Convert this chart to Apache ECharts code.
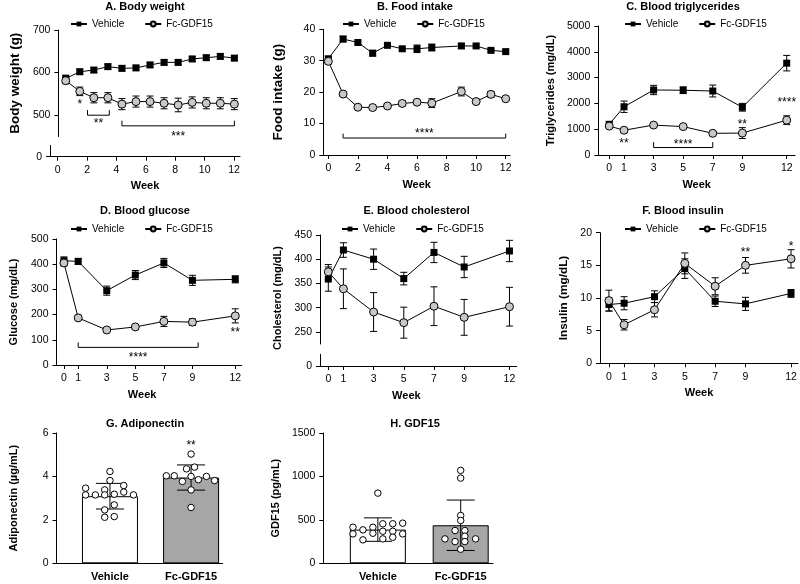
<!DOCTYPE html>
<html>
<head>
<meta charset="utf-8">
<title>Fc-GDF15</title>
<script src="https://cdn.jsdelivr.net/npm/echarts@6.0.0/dist/echarts.min.js"></script>
<style>
  html, body { margin: 0; padding: 0; background: #fff; }
  #page { position: relative; width: 800px; height: 584px; }
  .panel { position: absolute; }
</style>
</head>
<body>
<div id="page">
  <div class="panel" id="bw" style="left:0;top:0;width:262px;height:195px"></div>
  <div class="panel" id="food" style="left:262px;top:0;width:258px;height:195px"></div>
  <div class="panel" id="tg" style="left:520px;top:0;width:280px;height:195px"></div>
  <div class="panel" id="glu" style="left:0;top:195px;width:262px;height:210px"></div>
  <div class="panel" id="chol" style="left:262px;top:195px;width:258px;height:210px"></div>
  <div class="panel" id="ins" style="left:520px;top:195px;width:280px;height:210px"></div>
  <div class="panel" id="adipo" style="left:0;top:405px;width:262px;height:179px"></div>
  <div class="panel" id="gdf" style="left:262px;top:405px;width:258px;height:179px"></div>
</div>
<script>
// A. 体重
const bwWeeks = [0, 1, 2, 3, 4, 5, 6, 7, 8, 9, 10, 11, 12]
const bwVehicle = [586, 602, 606, 614, 610, 611, 618, 624, 624, 632, 635, 638, 634]
const bwVehicleErr = [8, 6, 6, 6, 6, 6, 6, 6, 6, 6, 6, 6, 6]
const bwFc = [581, 556, 541, 541, 526, 532, 532, 528, 524, 530, 528, 528, 526]
const bwFcErr = [7, 10, 12, 12, 13, 13, 13, 13, 16, 13, 13, 13, 13]
const bwTicks = [500, 600, 700]
const bwBrackets = [[1.55, 3.1, 500, 512], [4, 12, 475, 487]]
const bwStars = [[1, 531, '*'], [2.33, 487, '**'], [8, 455, '***']]

// B. 摄食量 (第8周无数据)
const fiWeeks = [0, 1, 2, 3, 4, 5, 6, 7, 9, 10, 11, 12]
const fiVehicle = [30.6, 36.9, 35.8, 32.4, 34.9, 33.8, 33.8, 34.2, 34.7, 34.7, 33.3, 32.9]
const fiVehicleErr = [0.8, 0.9, 0.5, 0.9, 0.5, 0.6, 1.2, 1.1, 0.8, 0.6, 0.5, 0.5]
const fiFc = [29.8, 19.4, 15.2, 15.1, 15.6, 16.4, 16.8, 16.5, 20.2, 17.0, 19.3, 17.9]
const fiFcErr = [0.8, 0.6, 0.4, 0.4, 0.8, 0.8, 0.6, 1.4, 1.4, 0.5, 0.9, 0.5]
const fiTicks = [0, 10, 20, 30, 40]
const fiBrackets = [[1, 12, 5.4, 6.8]]
const fiStars = [[6.5, 7.6, '****']]

const evenWeeks = [0, 2, 4, 6, 8, 10, 12]
const sampleWeeks = [0, 1, 3, 5, 7, 9, 12]

// C. 甘油三酯
const tgVehicle = [1190, 1870, 2520, 2510, 2480, 1850, 3560]
const tgVehicleErr = [90, 220, 180, 130, 230, 150, 300]
const tgFc = [1120, 960, 1160, 1100, 840, 850, 1350]
const tgFcErr = [60, 50, 50, 50, 60, 210, 170]
const tgTicks = [0, 1000, 2000, 3000, 4000, 5000]
const tgBrackets = [[3, 7, 290, 500]]
const tgStars = [[1, 520, '**'], [5, 478, '****'], [9, 1290, '**'], [12, 2130, '****']]

// D. 血糖
const gluVehicle = [414, 411, 295, 357, 405, 336, 340]
const gluVehicleErr = [15, 12, 18, 18, 18, 20, 14]
const gluFc = [405, 187, 139, 151, 173, 170, 195]
const gluFcErr = [12, 6, 6, 6, 20, 13, 28]
const gluTicks = [0, 100, 200, 300, 400, 500]
const gluBrackets = [[1, 9.4, 70, 90]]
const gluStars = [[5.2, 39, '****'], [12, 139, '**']]

// E. 胆固醇
const cholVehicle = [359, 419, 400, 360, 414, 384, 417]
const cholVehicleErr = [25, 15, 21, 13, 21, 22, 22]
const cholFc = [374, 339, 291, 269, 303, 280, 302]
const cholFcErr = [15, 41, 40, 32, 40, 37, 40]
const cholTicks = [250, 300, 350, 400, 450]

// F. 胰岛素
const insVehicle = [9.0, 9.2, 10.2, 14.5, 9.5, 9.1, 10.7]
const insVehicleErr = [1.0, 1.0, 0.9, 1.5, 0.8, 1.0, 0.6]
const insFc = [9.6, 5.9, 8.2, 15.3, 11.8, 15.0, 16.0]
const insFcErr = [1.6, 0.8, 1.1, 1.6, 1.3, 1.2, 1.4]
const insTicks = [0, 5, 10, 15, 20]
const insStars = [[9, 17.3, '**'], [12, 18.2, '*']]

// G / H 柱状图
const groups = ['Vehicle', 'Fc-GDF15']
const adipoMean = [3.09, 3.95]
const adipoSd = [0.59, 0.58]
const adipoVehicleDots = [4.23, 3.46, 3.15, 3.15, 3.38, 3.15, 3.18, 3.58, 3.28, 3.15, 3.81, 2.69, 2.46, 2.12, 2.15]
const adipoVehicleJitter = [0, -0.3, -0.3, -0.18, -0.065, -0.065, 0.053, 0.17, 0.17, 0.29, 0, 0.053, -0.065, -0.065, 0.053]
const adipoFcDots = [5.03, 4.35, 4.43, 4.03, 4.03, 3.77, 4.0, 3.85, 4.0, 3.81, 3.38, 2.57]
const adipoFcJitter = [0, -0.056, 0.043, -0.305, -0.207, -0.107, 0, 0.09, 0.19, 0.29, 0, 0]
const adipoTicks = [0, 2, 4, 6]
const adipoStars = [[2, 5.54, '**']]

const gdfMean = [388, 438]
const gdfSd = [135, 290]
const gdfVehicleDots = [808, 415, 339, 385, 270, 415, 346, 455, 369, 281, 455, 369, 300, 462, 339]
const gdfVehicleJitter = [0, -0.3, -0.3, -0.18, -0.18, -0.06, -0.06, 0.06, 0.06, 0.06, 0.18, 0.18, 0.18, 0.3, 0.3]
const gdfFcDots = [1070, 981, 550, 493, 377, 377, 312, 281, 250, 250, 281, 162]
const gdfFcJitter = [0, 0, 0, 0, -0.068, 0.05, 0.05, -0.19, -0.068, 0.05, 0.18, 0]
const gdfTicks = [0, 500, 1000, 1500]

const FONT = 'Liberation Sans'
const fcGray = '#c8c8c8'
const barGray = '#a6a6a6'

// 公共样式
const panelTitle = (text, left, top) => ({
  text, left, top, textAlign: 'center', padding: 0,
  textStyle: { fontSize: 11, fontWeight: 'bold', color: '#000', fontFamily: FONT },
})

const panelLegend = (left, top) => ({
  data: ['Vehicle', 'Fc-GDF15'],
  left, top, padding: 0,
  itemWidth: 16, itemHeight: 6, itemGap: 20,
  textStyle: { fontSize: 10, color: '#000', fontFamily: FONT },
})

const nameStyle = { fontSize: 11, fontWeight: 'bold', color: '#000', fontFamily: FONT }
const labelStyle = { color: '#000', fontSize: 10.5, fontFamily: FONT, formatter: (v) => String(v) }

const weekAxis = (min, max, ticks, gridIndex = 0, shift = 0) => ({
  type: 'value', min, max, gridIndex,
  axisLine: { show: true, onZero: false, lineStyle: { color: '#000' } },
  axisTick: { show: true, length: 4, customValues: ticks, lineStyle: { color: '#000' } },
  axisLabel: { ...labelStyle, customValues: ticks },
  splitLine: { show: false },
  name: 'Week', nameLocation: 'middle', nameGap: 24,
  nameTextStyle: { ...nameStyle, padding: [0, shift, 0, 0] },
})

const valueAxis = (min, max, ticks, name = '', nameGap = 38, gridIndex = 0, nameSize = 11) => ({
  type: 'value', min, max, gridIndex,
  axisLine: { show: true, onZero: false, lineStyle: { color: '#000' } },
  axisTick: { show: true, length: 4, customValues: ticks, lineStyle: { color: '#000' } },
  axisLabel: { ...labelStyle, customValues: ticks },
  splitLine: { show: false },
  name, nameLocation: 'middle', nameGap, nameTextStyle: { ...nameStyle, fontSize: nameSize },
})

const groupAxis = (min, max) => ({
  type: 'value', min, max,
  axisLine: { show: true, onZero: false, lineStyle: { color: '#000' } },
  axisTick: { show: false },
  axisLabel: {
    ...labelStyle, fontWeight: 'bold', fontSize: 11,
    customValues: [1, 2],
    formatter: (v) => groups[Math.round(v) - 1],
  },
  splitLine: { show: false },
})

const lineSeries = (name, xs, ys, fc, xAxisIndex = 0, yAxisIndex = 0) => ({
  name, type: 'line', xAxisIndex, yAxisIndex,
  data: xs.map((x, i) => [x, ys[i]]),
  symbol: fc ? 'circle' : 'rect',
  symbolSize: fc ? 8 : 7,
  lineStyle: { color: '#000', width: 1 },
  itemStyle: fc ? { color: fcGray, borderColor: '#000', borderWidth: 1 } : { color: '#000' },
  z: 3,
})

// 误差线
const errorBarSeries = (xs, means, errs, cap, xAxisIndex = 0, yAxisIndex = 0) => ({
  type: 'custom', xAxisIndex, yAxisIndex, silent: true, z: 2,
  data: xs.map((x, i) => [x, means[i] - errs[i], means[i] + errs[i]]),
  renderItem: (params, api) => {
    const lo = api.coord([api.value(0), api.value(1)])
    const hi = api.coord([api.value(0), api.value(2)])
    const style = { stroke: '#000', lineWidth: 1 }
    return {
      type: 'group',
      children: [
        { type: 'line', shape: { x1: lo[0], y1: lo[1], x2: hi[0], y2: hi[1] }, style },
        { type: 'line', shape: { x1: hi[0] - cap, y1: hi[1], x2: hi[0] + cap, y2: hi[1] }, style },
        { type: 'line', shape: { x1: lo[0] - cap, y1: lo[1], x2: lo[0] + cap, y2: lo[1] }, style },
      ],
    }
  },
})

// 显著性括号
const bracketSeries = (brackets) => ({
  type: 'custom', silent: true, z: 4,
  data: brackets.map((b) => [b[0], b[2], b[1], b[3]]),
  renderItem: (params, api) => {
    const a = api.coord([api.value(0), api.value(1)])
    const b = api.coord([api.value(2), api.value(1)])
    const tip = api.coord([api.value(0), api.value(3)])[1]
    return {
      type: 'polyline',
      shape: { points: [[a[0], tip], a, b, [b[0], tip]] },
      style: { stroke: '#000', fill: null, lineWidth: 1 },
    }
  },
})

// 星号
const starSeries = (stars) => ({
  type: 'custom', silent: true, z: 5,
  data: stars.map((s) => [s[0], s[1]]),
  renderItem: (params, api) => {
    const p = api.coord([api.value(0), api.value(1)])
    return {
      type: 'text', x: p[0], y: p[1] + 2.5,
      style: {
        text: stars[params.dataIndex][2], fill: '#000',
        font: '12px "Liberation Sans"', align: 'center', verticalAlign: 'middle',
      },
    }
  },
})

const timeCourseSeries = (xs, vehicle, vehicleErr, fc, fcErr, brackets, stars) => {
  const list = [
    errorBarSeries(xs, vehicle, vehicleErr, 3.5),
    errorBarSeries(xs, fc, fcErr, 3.5),
    lineSeries('Vehicle', xs, vehicle, false),
    lineSeries('Fc-GDF15', xs, fc, true),
  ]
  if (brackets) list.push(bracketSeries(brackets))
  if (stars) list.push(starSeries(stars))
  return list
}

// A. Body weight (断轴)
const initBodyWeightChart = () => {
  const myEchart = echarts.init(document.querySelector('#bw'))
  myEchart.setOption({
    animation: false,
    title: panelTitle('A. Body weight', 145, 1),
    legend: panelLegend(70, 19),
    grid: [
      { left: 50, top: 30, width: 190, height: 106.5 },
      { left: 50, top: 145.5, width: 190, height: 11.2 },
    ],
    xAxis: [
      { ...weekAxis(-0.52, 12.4, evenWeeks), show: false },
      weekAxis(-0.52, 12.4, evenWeeks, 1),
    ],
    yAxis: [
      valueAxis(450, 700, bwTicks, 'Body weight (g)', 36, 0, 13.5),
      valueAxis(0, 10, [0], '', 0, 1),
    ],
    series: timeCourseSeries(bwWeeks, bwVehicle, bwVehicleErr, bwFc, bwFcErr, bwBrackets, bwStars),
  })
}

// B. Food intake
const initFoodChart = () => {
  const myEchart = echarts.init(document.querySelector('#food'))
  myEchart.setOption({
    animation: false,
    title: panelTitle('B. Food intake', 153, 1),
    legend: panelLegend(80, 19),
    grid: { left: 61.3, top: 29.3, width: 186.7, height: 127.4 },
    xAxis: weekAxis(-0.34, 12.29, evenWeeks),
    yAxis: valueAxis(0, 40, fiTicks, 'Food intake (g)', 38, 0, 13.5),
    series: timeCourseSeries(fiWeeks, fiVehicle, fiVehicleErr, fiFc, fiFcErr, fiBrackets, fiStars),
  })
}

// C. Blood triglycerides
const initTgChart = () => {
  const myEchart = echarts.init(document.querySelector('#tg'))
  myEchart.setOption({
    animation: false,
    title: panelTitle('C. Blood triglycerides', 163, 1),
    legend: panelLegend(104, 19),
    grid: { left: 78.3, top: 26, width: 196.7, height: 129 },
    xAxis: weekAxis(-0.74, 12.56, sampleWeeks),
    yAxis: valueAxis(0, 5000, tgTicks, 'Triglycerides (mg/dL)', 42),
    series: timeCourseSeries(sampleWeeks, tgVehicle, tgVehicleErr, tgFc, tgFcErr, tgBrackets, tgStars),
  })
}

// D. Blood glucose
const initGlucoseChart = () => {
  const myEchart = echarts.init(document.querySelector('#glu'))
  myEchart.setOption({
    animation: false,
    title: panelTitle('D. Blood glucose', 145, 10.5),
    legend: panelLegend(70, 29),
    grid: { left: 50, top: 44, width: 191.7, height: 128.3 },
    xAxis: weekAxis(-0.52, 12.45, sampleWeeks, 0, 14),
    yAxis: valueAxis(0, 500, gluTicks, 'Glucose (mg/dL)', 37.5),
    series: timeCourseSeries(sampleWeeks, gluVehicle, gluVehicleErr, gluFc, gluFcErr, gluBrackets, gluStars),
  })
}

// E. Blood cholesterol (断轴)
const initCholChart = () => {
  const myEchart = echarts.init(document.querySelector('#chol'))
  const yMain = valueAxis(225, 450, cholTicks, 'Cholesterol (mg/dL)', 35.5)
  yMain.nameTextStyle = { ...nameStyle, padding: [0, 17, 0, 0] }
  myEchart.setOption({
    animation: false,
    title: panelTitle('E. Blood cholesterol', 154.7, 10.5),
    legend: panelLegend(79, 29),
    grid: [
      { left: 58, top: 40, width: 196.7, height: 109 },
      { left: 58, top: 159.3, width: 196.7, height: 11.7 },
    ],
    xAxis: [
      { ...weekAxis(-0.55, 12.48, sampleWeeks), show: false },
      weekAxis(-0.55, 12.48, sampleWeeks, 1, 24),
    ],
    yAxis: [yMain, valueAxis(0, 10, [0], '', 0, 1)],
    series: timeCourseSeries(sampleWeeks, cholVehicle, cholVehicleErr, cholFc, cholFcErr),
  })
}

// F. Blood insulin
const initInsulinChart = () => {
  const myEchart = echarts.init(document.querySelector('#ins'))
  myEchart.setOption({
    animation: false,
    title: panelTitle('F. Blood insulin', 163, 10.5),
    legend: panelLegend(104, 29),
    grid: { left: 80, top: 37.7, width: 198, height: 130.6 },
    xAxis: weekAxis(-0.59, 12.46, sampleWeeks),
    yAxis: valueAxis(0, 20, insTicks, 'Insulin (mg/dL)', 28, 0, 11.8),
    series: timeCourseSeries(sampleWeeks, insVehicle, insVehicleErr, insFc, insFcErr, null, insStars),
  })
}

// 柱状图 + 散点
const barSeries = (means) => ({
  type: 'bar', barWidth: 56, z: 1, silent: true,
  data: means.map((m, i) => ({ value: [i + 1, m], itemStyle: { color: i ? barGray : '#fff' } })),
  itemStyle: { borderColor: '#000', borderWidth: 1 },
})

const dotSeries = (group, values, jitter) => ({
  type: 'scatter', z: 4, silent: true,
  symbol: 'circle', symbolSize: 6.5,
  data: values.map((v, i) => [group + jitter[i], v]),
  itemStyle: { color: '#fff', borderColor: '#000', borderWidth: 1, opacity: 1 },
})

const initBarChart = (el, title, means, sds, vDots, vJitter, fDots, fJitter, yMax, ticks, name, nameGap, stars, leftPx, widthPx) => {
  const myEchart = echarts.init(document.querySelector(el))
  const series = [
    barSeries(means),
    errorBarSeries([1, 2], means, sds, 14),
    dotSeries(1, vDots, vJitter),
    dotSeries(2, fDots, fJitter),
  ]
  if (stars) series.push(starSeries(stars))
  myEchart.setOption({
    animation: false,
    title: panelTitle(title, leftPx + 95, 13.5),
    grid: { left: leftPx, top: 28, width: widthPx, height: 130.3 },
    xAxis: groupAxis(0.341, 2.39),
    yAxis: valueAxis(0, yMax, ticks, name, nameGap),
    series,
  })
}

initBodyWeightChart()
initFoodChart()
initTgChart()
initGlucoseChart()
initCholChart()
initInsulinChart()
initBarChart('#adipo', 'G. Adiponectin', adipoMean, adipoSd, adipoVehicleDots, adipoVehicleJitter,
  adipoFcDots, adipoFcJitter, 6, adipoTicks, 'Adiponectin (µg/mL)', 37.5, adipoStars, 50, 172.7)
initBarChart('#gdf', 'H. GDF15', gdfMean, gdfSd, gdfVehicleDots, gdfVehicleJitter,
  gdfFcDots, gdfFcJitter, 1500, gdfTicks, 'GDF15 (pg/mL)', 35.5, null, 58, 173)
</script>
</body>
</html>
